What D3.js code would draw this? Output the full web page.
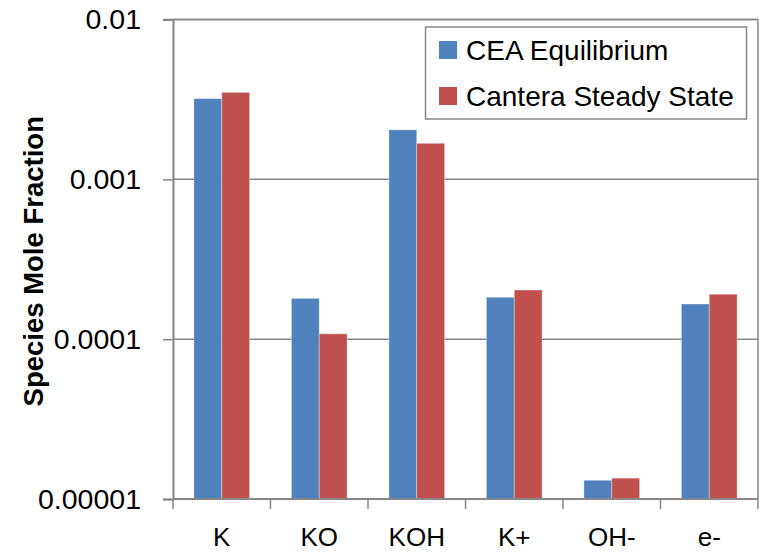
<!DOCTYPE html>
<html>
<head>
<meta charset="utf-8">
<script src="https://cdn.jsdelivr.net/npm/d3@7"></script>
<style>
  html, body { margin: 0; padding: 0; background: #fff; }
  svg { display: block; font-family: "Liberation Sans", Arial, sans-serif; }
</style>
</head>
<body>
<svg id="chart" width="759" height="554"></svg>
<script>
// Species mole fractions: CEA equilibrium vs. Cantera steady state
const categories = ["K", "KO", "KOH", "K+", "OH-", "e-"];
const seriesNames = ["CEA Equilibrium", "Cantera Steady State"];
const ceaValues = [0.00320, 0.000180, 0.00204, 0.000183, 0.0000131, 0.000166];
const canteraValues = [0.00350, 0.000108, 0.00168, 0.000203, 0.0000135, 0.000191];
const yTickValues = [0.00001, 0.0001, 0.001, 0.01];
const yTickLabels = ["0.00001", "0.0001", "0.001", "0.01"];
const colors = ["#4F81BD", "#C0504D"];

const seriesValues = [ceaValues, canteraValues];
const rows = categories.map((c, i) => ({
  category: c,
  values: seriesValues.map((vals, s) => ({ series: s, value: vals[i] }))
}));

const svg = d3.select("#chart");
const plot = { left: 173, right: 758, top: 19.5, bottom: 499 };
const axisColor = "#878787";

const y = d3.scaleLog()
  .domain([yTickValues[0], yTickValues[yTickValues.length - 1]])
  .range([plot.bottom, plot.top]);

const x0 = d3.scaleBand()
  .domain(categories)
  .range([plot.left, plot.right])
  .padding(0);

const x1 = d3.scaleBand()
  .domain(d3.range(seriesNames.length))
  .range([0, x0.bandwidth()])
  .paddingInner(0)
  .paddingOuter(0.75);

// Gridlines
svg.append("g")
  .selectAll("line")
  .data(yTickValues.slice(1))
  .join("line")
  .attr("x1", plot.left)
  .attr("x2", plot.right)
  .attr("y1", d => y(d))
  .attr("y2", d => y(d))
  .attr("stroke", axisColor)
  .attr("stroke-width", 1.5);

// Right border of the plot area
svg.append("line")
  .attr("x1", plot.right).attr("x2", plot.right)
  .attr("y1", plot.top).attr("y2", plot.bottom)
  .attr("stroke", axisColor).attr("stroke-width", 1.5);

// Bars
svg.append("g")
  .selectAll("g")
  .data(rows)
  .join("g")
  .attr("transform", d => `translate(${x0(d.category)},0)`)
  .selectAll("rect")
  .data(d => d.values)
  .join("rect")
  .attr("x", d => x1(d.series))
  .attr("width", x1.bandwidth())
  .attr("y", d => y(d.value))
  .attr("height", d => y(yTickValues[0]) - y(d.value))
  .attr("fill", d => colors[d.series])
  .attr("stroke", "rgba(255,255,255,0.35)")
  .attr("stroke-width", 1);

// Y axis
const yAxis = svg.append("g")
  .attr("transform", `translate(${plot.left},0)`)
  .call(d3.axisLeft(y)
    .tickValues(yTickValues)
    .tickFormat((d, i) => yTickLabels[i])
    .tickSize(10)
    .tickPadding(22));
yAxis.select(".domain").attr("stroke", axisColor).attr("stroke-width", 2);
yAxis.selectAll(".tick line").attr("stroke", axisColor).attr("stroke-width", 1.5);
yAxis.selectAll(".tick text")
  .attr("fill", "#000")
  .style("font-size", "28.5px")
  .style("font-family", "'Liberation Sans', Arial, sans-serif");

// X axis with ticks on category boundaries
const xAxisG = svg.append("g")
  .attr("transform", `translate(0,${plot.bottom})`);
xAxisG.append("line")
  .attr("x1", plot.left).attr("x2", plot.right)
  .attr("stroke", axisColor).attr("stroke-width", 2);
const boundaries = categories.map(c => x0(c)).concat([x0(categories[categories.length - 1]) + x0.bandwidth()]);
xAxisG.selectAll("line.tick")
  .data(boundaries)
  .join("line")
  .attr("class", "tick")
  .attr("x1", d => d).attr("x2", d => d)
  .attr("y1", 0).attr("y2", 10)
  .attr("stroke", axisColor).attr("stroke-width", 1.5);
xAxisG.selectAll("text")
  .data(categories)
  .join("text")
  .attr("x", d => x0(d) + x0.bandwidth() / 2)
  .attr("y", 47)
  .attr("text-anchor", "middle")
  .style("font-size", "26px")
  .text(d => d);

// Y axis title
svg.append("text")
  .attr("transform", `translate(43,${(plot.top + plot.bottom) / 2 + 2}) rotate(-90)`)
  .attr("text-anchor", "middle")
  .style("font-size", "27.5px")
  .style("font-weight", "bold")
  .text("Species Mole Fraction");

// Top border of the plot area
svg.append("line")
  .attr("x1", plot.left - 10).attr("x2", plot.right)
  .attr("y1", plot.top).attr("y2", plot.top)
  .attr("stroke", axisColor).attr("stroke-width", 1.5);

// Legend
const legend = svg.append("g");
legend.append("rect")
  .attr("x", 425.5).attr("y", 27)
  .attr("width", 321).attr("height", 92)
  .attr("fill", "#fff")
  .attr("stroke", axisColor)
  .attr("stroke-width", 1.5);
const items = legend.selectAll("g")
  .data(seriesNames)
  .join("g")
  .attr("transform", (d, i) => `translate(439,${41 + i * 46})`);
items.append("rect")
  .attr("width", 18).attr("height", 18)
  .attr("fill", (d, i) => colors[i]);
items.append("text")
  .attr("x", 27)
  .attr("y", 19)
  .style("font-size", "28px")
  .text(d => d);
</script>
</body>
</html>
